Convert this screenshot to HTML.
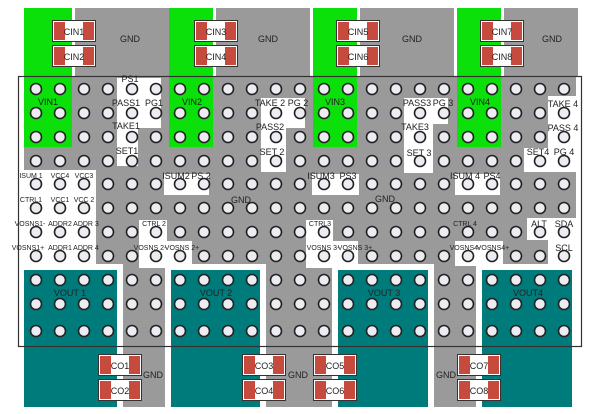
<!DOCTYPE html>
<html><head><meta charset="utf-8"><style>html,body{margin:0;padding:0;background:#fff}svg{display:block}</style></head><body>
<svg width="600" height="414" viewBox="0 0 600 414" xmlns="http://www.w3.org/2000/svg" font-family="Liberation Sans, Arial, sans-serif">
<rect width="600" height="414" fill="#fff"/>
<rect x="75" y="8" width="94" height="68" fill="#9a9a9a"/>
<rect x="216" y="8" width="94" height="68" fill="#9a9a9a"/>
<rect x="360" y="8" width="94" height="68" fill="#9a9a9a"/>
<rect x="504" y="8" width="74" height="68" fill="#9a9a9a"/>
<rect x="24" y="76" width="552" height="194" fill="#9a9a9a"/>
<rect x="123" y="264" width="42" height="143" fill="#9a9a9a"/>
<rect x="266" y="264" width="67" height="143" fill="#9a9a9a"/>
<rect x="434" y="264" width="43" height="143" fill="#9a9a9a"/>
<rect x="572" y="264" width="4" height="82" fill="#9a9a9a"/>
<rect x="24" y="8" width="48" height="139" fill="#0be00b"/>
<rect x="169" y="8" width="44" height="139" fill="#0be00b"/>
<rect x="313" y="8" width="44" height="139" fill="#0be00b"/>
<rect x="457" y="8" width="44" height="139" fill="#0be00b"/>
<g fill="#fff">
<rect x="117" y="78" width="44" height="50"/><rect x="117" y="78" width="21" height="88"/>
<rect x="261" y="98" width="44" height="30"/><rect x="261" y="98" width="25" height="74"/>
<rect x="404" y="98" width="44" height="26"/><rect x="404" y="98" width="29" height="75"/>
<rect x="548" y="96" width="30" height="76"/><rect x="524" y="148" width="54" height="24"/>
<rect x="18" y="170" width="78" height="100"/>
<rect x="164" y="174" width="45" height="21"/>
<rect x="312" y="174" width="47" height="21"/>
<rect x="455" y="174" width="45" height="21"/>
<rect x="139" y="220" width="28" height="48"/><rect x="139" y="241" width="53" height="27"/>
<rect x="306" y="220" width="27" height="48"/><rect x="306" y="241" width="52" height="27"/>
<rect x="455" y="241" width="48" height="25"/>
<rect x="527" y="218" width="51" height="22"/><rect x="548" y="218" width="30" height="50"/>
<rect x="18" y="264" width="105" height="143"/>
<rect x="165" y="264" width="101" height="143"/>
<rect x="332" y="264" width="102" height="143"/>
<rect x="476" y="264" width="102" height="143"/>
</g>
<g fill="#007b7b">
<rect x="24" y="270" width="93" height="137"/>
<rect x="171" y="270" width="89" height="137"/>
<rect x="338" y="270" width="90" height="137"/>
<rect x="482" y="270" width="90" height="137"/>
</g>
<rect x="18.5" y="76.5" width="563" height="270" fill="none" stroke="#333" stroke-width="1.2"/>
<g id="holes" fill="#ececf2" stroke="#222" stroke-width="1.6"></g>
<defs>
<g id="cap"><rect x="0.5" y="0.5" width="43" height="21" fill="#fff" stroke="#333"/><rect x="2" y="2" width="11" height="18" fill="#c64a3e"/><rect x="31" y="2" width="11" height="18" fill="#c64a3e"/></g>
</defs>
<use href="#cap" x="52" y="20"/><use href="#cap" x="52" y="45"/>
<use href="#cap" x="194" y="20"/><use href="#cap" x="194" y="45"/>
<use href="#cap" x="336" y="20"/><use href="#cap" x="336" y="45"/>
<use href="#cap" x="480" y="20"/><use href="#cap" x="480" y="45"/>
<use href="#cap" x="98" y="354"/><use href="#cap" x="98" y="379"/>
<use href="#cap" x="242" y="354"/><use href="#cap" x="242" y="379"/>
<use href="#cap" x="313" y="354"/><use href="#cap" x="313" y="379"/>
<use href="#cap" x="457" y="354"/><use href="#cap" x="457" y="379"/>
<g font-size="9" fill="#222" text-anchor="middle">
<text x="74" y="35">CIN1</text><text x="74" y="60">CIN2</text>
<text x="216" y="35">CIN3</text><text x="216" y="60">CIN4</text>
<text x="358" y="35">CIN5</text><text x="358" y="60">CIN6</text>
<text x="502" y="35">CIN7</text><text x="502" y="60">CIN8</text>
<text x="120" y="369">CO1</text><text x="120" y="394">CO2</text>
<text x="264" y="369">CO3</text><text x="264" y="394">CO4</text>
<text x="335" y="369">CO5</text><text x="335" y="394">CO6</text>
<text x="479" y="369">CO7</text><text x="479" y="394">CO8</text>
<text x="130" y="42">GND</text><text x="268" y="42">GND</text><text x="412" y="42">GND</text><text x="552" y="42">GND</text>
<text x="153" y="378">GND</text><text x="298" y="378">GND</text><text x="446" y="378">GND</text>
<text x="241" y="203">GND</text><text x="385" y="202">GND</text>
<text x="48" y="105">VIN1</text><text x="192" y="105">VIN2</text><text x="335" y="105">VIN3</text><text x="480" y="105">VIN4</text>
<text x="70" y="296">VOUT 1</text><text x="216" y="296">VOUT 2</text><text x="384" y="296">VOUT 3</text><text x="528" y="296">VOUT4</text>
<text x="130" y="82">PS1</text><text x="126" y="106">PASS1</text><text x="154" y="106">PG1</text><text x="126" y="129">TAKE1</text><text x="127" y="154">SET1</text>
<text x="270" y="106">TAKE 2</text><text x="298" y="106">PG 2</text><text x="270" y="130">PASS2</text><text x="272" y="155">SET 2</text>
<text x="417" y="106">PASS3</text><text x="443" y="106">PG 3</text><text x="415" y="130">TAKE3</text><text x="419" y="156">SET 3</text>
<text x="563" y="107">TAKE 4</text><text x="563" y="131">PASS 4</text><text x="538" y="155">SET4</text><text x="564" y="155">PG 4</text>
<text x="539" y="227">ALT</text><text x="564" y="227">SDA</text><text x="564" y="251">SCL</text>
<text x="176" y="179">ISUM2</text><text x="201" y="179">PS 2</text>
<text x="321" y="179">ISUM3</text><text x="348" y="179">PS3</text>
<text x="465" y="179">ISUM 4</text><text x="492" y="179">PS4</text>
</g>
<g font-size="7" fill="#222" text-anchor="middle">
<text x="31" y="178">ISUM 1</text><text x="60" y="178">VCC4</text><text x="84" y="178">VCC3</text>
<text x="31" y="202">CTRL1</text><text x="60" y="202">VCC1</text><text x="84" y="202">VCC 2</text>
<text x="30" y="226">VOSNS1-</text><text x="60" y="226">ADDR2</text><text x="86" y="226">ADDR 3</text>
<text x="28" y="250">VOSNS1+</text><text x="60" y="250">ADDR1</text><text x="86" y="250">ADDR 4</text>
<text x="154" y="226">CTRL 2</text><text x="150" y="250">VOSNS 2-</text><text x="182" y="250">VOSNS 2+</text>
<text x="320" y="226">CTRL3</text><text x="323" y="250">VOSNS 3-</text><text x="355" y="250">VOSNS 3+</text>
<text x="465" y="226">CTRL 4</text><text x="465" y="250">VOSNS4-</text><text x="493" y="250">VOSNS4+</text>
</g>
</svg>
<script>
var g=document.getElementById('holes');var rows=[89,113,137,161,184,208,232,256,280,304,331];
for(var r=0;r<rows.length;r++)for(var k=0;k<23;k++){var c=document.createElementNS('http://www.w3.org/2000/svg','circle');c.setAttribute('cx',36+24*k);c.setAttribute('cy',rows[r]);c.setAttribute('r',5.5);g.appendChild(c);}
</script>
</body></html>
